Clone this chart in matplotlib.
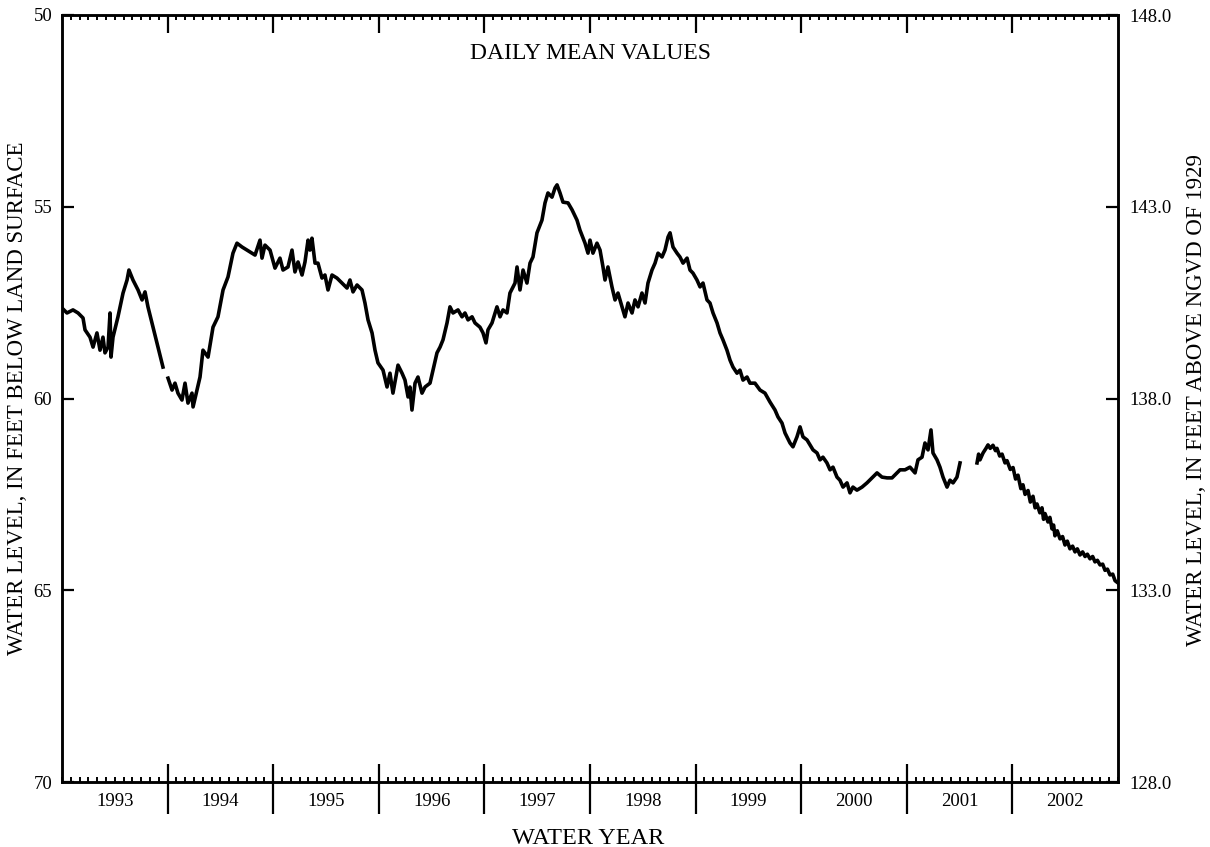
import matplotlib.pyplot as plt
import numpy as np

plt.rcParams['font.family'] = ['Liberation Serif', 'DejaVu Serif']

# decimal year (water year 1993 starts at 1992.75) and depth to water, feet
yr_a = [1992.750, 1992.797, 1992.854, 1992.902, 1992.949, 1992.968, 1993.015, 1993.044,
        1993.081, 1993.110, 1993.138, 1993.157, 1993.186, 1993.205, 1993.214, 1993.233,
        1993.280, 1993.328, 1993.366, 1993.384, 1993.422, 1993.470, 1993.508, 1993.536,
        1993.564, 1993.612, 1993.659, 1993.706]
lvl_a = [57.64, 57.77, 57.69, 57.77, 57.90, 58.21, 58.40, 58.66,
         58.29, 58.74, 58.40, 58.81, 58.66, 57.77, 58.92, 58.40,
         57.87, 57.25, 56.91, 56.65, 56.91, 57.17, 57.43, 57.22,
         57.61, 58.14, 58.66, 59.18]

yr_b = [1993.754, 1993.792, 1993.820, 1993.848, 1993.886, 1993.915, 1993.943, 1993.981,
        1993.991, 1994.028, 1994.057, 1994.085, 1994.133, 1994.180, 1994.227, 1994.275,
        1994.322, 1994.369, 1994.407, 1994.455, 1994.502, 1994.549, 1994.578, 1994.625,
        1994.644, 1994.672, 1994.720, 1994.767, 1994.814, 1994.843, 1994.890, 1994.928,
        1994.956, 1994.985, 1995.023, 1995.051, 1995.080, 1995.098, 1995.117, 1995.146,
        1995.174, 1995.212, 1995.240, 1995.269, 1995.307, 1995.354, 1995.402, 1995.449,
        1995.477, 1995.506, 1995.544, 1995.591, 1995.619, 1995.648, 1995.686, 1995.714,
        1995.742, 1995.790, 1995.828, 1995.856, 1995.884, 1995.932, 1995.970, 1995.998,
        1996.027, 1996.045, 1996.064, 1996.093, 1996.121, 1996.159, 1996.188, 1996.235,
        1996.263, 1996.301, 1996.330, 1996.358, 1996.396, 1996.424, 1996.453, 1996.500,
        1996.538, 1996.566, 1996.595, 1996.633, 1996.661, 1996.708, 1996.737, 1996.765,
        1996.784, 1996.822, 1996.869, 1996.898, 1996.926, 1996.964, 1996.992, 1997.040,
        1997.059, 1997.087, 1997.116, 1997.153, 1997.182, 1997.210, 1997.248, 1997.295,
        1997.324, 1997.352, 1997.390, 1997.419, 1997.438, 1997.466, 1997.494, 1997.542,
        1997.580, 1997.627, 1997.655, 1997.703, 1997.731, 1997.750, 1997.778, 1997.816,
        1997.845, 1997.873, 1997.892, 1997.920, 1997.958, 1997.987, 1998.015, 1998.053,
        1998.081, 1998.110, 1998.148, 1998.176, 1998.205, 1998.242, 1998.271, 1998.299,
        1998.337, 1998.366, 1998.394, 1998.432, 1998.460, 1998.489, 1998.508, 1998.536,
        1998.574, 1998.602, 1998.631, 1998.669, 1998.697, 1998.725, 1998.763, 1998.792,
        1998.820, 1998.858, 1998.886, 1998.915, 1998.953, 1998.981, 1999.009, 1999.047,
        1999.076, 1999.104, 1999.142, 1999.170, 1999.199, 1999.237, 1999.265, 1999.312,
        1999.360, 1999.407, 1999.454, 1999.502, 1999.530, 1999.568, 1999.597, 1999.644,
        1999.672, 1999.710, 1999.739, 1999.767, 1999.805, 1999.833, 1999.862, 1999.900,
        1999.928, 1999.956, 1999.994, 2000.023, 2000.051, 2000.089, 2000.117, 2000.146,
        2000.184, 2000.212, 2000.240, 2000.278, 2000.326, 2000.373, 2000.420, 2000.468,
        2000.515, 2000.563, 2000.610, 2000.657, 2000.686, 2000.733, 2000.780, 2000.828,
        2000.856, 2000.894, 2000.922, 2000.951, 2000.979, 2000.998, 2001.036, 2001.064,
        2001.093, 2001.131, 2001.159, 2001.188, 2001.225, 2001.254]
lvl_b = [59.47, 59.78, 59.60, 59.86, 60.04, 59.60, 60.12, 59.86,
         60.22, 59.78, 59.44, 58.74, 58.92, 58.14, 57.87, 57.17,
         56.83, 56.21, 55.95, 56.05, 56.13, 56.21, 56.26, 55.87,
         56.34, 56.00, 56.13, 56.60, 56.34, 56.65, 56.57, 56.13,
         56.70, 56.44, 56.78, 56.44, 55.87, 56.13, 55.82, 56.47,
         56.47, 56.86, 56.78, 57.17, 56.78, 56.86, 56.99, 57.12,
         56.91, 57.22, 57.04, 57.17, 57.51, 57.95, 58.29, 58.74,
         59.07, 59.26, 59.70, 59.34, 59.86, 59.13, 59.34, 59.52,
         59.96, 59.70, 60.30, 59.60, 59.44, 59.86, 59.70, 59.60,
         59.26, 58.81, 58.66, 58.47, 58.03, 57.61, 57.77, 57.69,
         57.87, 57.77, 57.95, 57.87, 58.03, 58.14, 58.29, 58.55,
         58.21, 58.03, 57.61, 57.87, 57.69, 57.77, 57.25, 56.99,
         56.57, 57.17, 56.65, 56.99, 56.47, 56.31, 55.68, 55.35,
         54.90, 54.64, 54.75, 54.51, 54.43, 54.64, 54.88, 54.90,
         55.08, 55.35, 55.61, 55.95, 56.21, 55.87, 56.21, 55.95,
         56.13, 56.57, 56.91, 56.57, 57.09, 57.43, 57.25, 57.61,
         57.87, 57.51, 57.77, 57.43, 57.61, 57.25, 57.51, 56.99,
         56.65, 56.47, 56.21, 56.31, 56.13, 55.79, 55.68, 56.05,
         56.21, 56.31, 56.47, 56.34, 56.65, 56.73, 56.91, 57.09,
         56.99, 57.43, 57.51, 57.77, 58.03, 58.29, 58.47, 58.74,
         59.00, 59.18, 59.34, 59.26, 59.52, 59.44, 59.60, 59.60,
         59.78, 59.86, 60.09, 60.30, 60.48, 60.64, 60.90, 61.16,
         61.26, 61.00, 60.74, 61.00, 61.08, 61.21, 61.34, 61.42,
         61.60, 61.53, 61.68, 61.86, 61.79, 62.05, 62.13, 62.31,
         62.20, 62.46, 62.31, 62.39, 62.31, 62.20, 62.07, 61.94,
         62.05, 62.07, 62.07, 61.94, 61.86, 61.86, 61.79, 61.94,
         61.60, 61.53, 61.16, 61.34, 60.82, 61.42, 61.60, 61.79,
         62.05, 62.31, 62.13, 62.20, 62.05, 61.68]

yr_c = [2001.415, 2001.430, 2001.443, 2001.472, 2001.500, 2001.519, 2001.540, 2001.566,
        2001.590, 2001.604, 2001.630, 2001.652, 2001.680, 2001.699, 2001.730, 2001.756,
        2001.780, 2001.803, 2001.830, 2001.850, 2001.870, 2001.898, 2001.920, 2001.945,
        2001.965, 2001.983, 2002.010, 2002.030, 2002.045, 2002.059, 2002.087, 2002.105,
        2002.125, 2002.140, 2002.153, 2002.175, 2002.201, 2002.225, 2002.248, 2002.270,
        2002.295, 2002.320, 2002.343, 2002.365, 2002.390, 2002.415, 2002.438, 2002.460,
        2002.485, 2002.510, 2002.532, 2002.555, 2002.580, 2002.605, 2002.627, 2002.650,
        2002.674, 2002.700, 2002.722, 2002.750]
lvl_c = [61.68, 61.45, 61.60, 61.42, 61.30, 61.21, 61.30, 61.22,
         61.36, 61.30, 61.50, 61.45, 61.68, 61.62, 61.85, 61.80,
         62.10, 62.00, 62.35, 62.25, 62.50, 62.40, 62.70, 62.55,
         62.85, 62.75, 62.98, 62.85, 63.15, 63.00, 63.22, 63.10,
         63.40, 63.30, 63.58, 63.45, 63.66, 63.60, 63.82, 63.72,
         63.92, 63.85, 64.00, 63.92, 64.08, 64.00, 64.12, 64.06,
         64.18, 64.12, 64.26, 64.22, 64.34, 64.32, 64.48, 64.45,
         64.60, 64.58, 64.75, 64.81]

water_years = ['1993', '1994', '1995', '1996', '1997', '1998', '1999', '2000', '2001', '2002']
land_surface = 198.0   # feet above NGVD 1929

fig = plt.figure(figsize=(12.1, 8.47), dpi=100)
ax = fig.add_axes([62/1210, 1 - 782/847, 1056/1210, 767/847])

for x, y in [(yr_a, lvl_a), (yr_b, lvl_b), (yr_c, lvl_c)]:
    ax.plot(x, y, color='black', lw=2.6)

x0 = 1992.75
x1 = x0 + len(water_years)
ax.set_xlim(x0, x1)
ax.set_ylim(70, 50)

# x ticks: years major, months minor, all inside
ax.set_xticks(np.arange(x0 + 1, x1, 1.0))
ax.set_xticks(np.arange(x0, x1 + 0.001, 1/12), minor=True)
ax.tick_params(axis='x', which='major', direction='in', length=13, width=1.6,
               top=True, bottom=True, labelbottom=False)
ax.tick_params(axis='x', which='minor', direction='in', length=3.6, width=1.4,
               top=True, bottom=True)

ax.set_yticks([50, 55, 60, 65, 70])
ax.tick_params(axis='y', direction='in', length=8.5, width=1.6, pad=7, labelsize=13.5)
for s in ax.spines.values():
    s.set_linewidth(1.8)

# outer part of the year ticks + year labels
sec = ax.secondary_xaxis('bottom')
sec.set_xticks(np.arange(x0 + 1, x1, 1.0), labels=[''] * (len(water_years) - 1))
sec.set_xticks(np.arange(x0 + 0.5, x1, 1.0), labels=water_years, minor=True)
sec.tick_params(which='major', direction='out', length=23, width=1.6)
sec.tick_params(which='minor', length=0, pad=8, labelsize=13.5)
sec.spines['bottom'].set_visible(False)

# right axis: elevation
ax2 = ax.twinx()
ax2.set_ylim(land_surface - 70, land_surface - 50)
ax2.set_yticks([128, 133, 138, 143, 148])
ax2.set_yticklabels([f'{v:.1f}' for v in [128, 133, 138, 143, 148]])
ax2.tick_params(axis='y', direction='in', length=8.5, width=1.6, pad=8, labelsize=13.5)
for s in ax2.spines.values():
    s.set_linewidth(1.8)

ax.text(0.5, 0.95, 'DAILY MEAN VALUES', transform=ax.transAxes, ha='center',
        va='center', fontsize=17)
fig.text(588/1210, 1 - 838/847, 'WATER YEAR', ha='center', va='center', fontsize=17.5)
fig.text(18/1210, 1 - 398/847, 'WATER LEVEL, IN FEET BELOW LAND SURFACE', rotation=90,
         ha='center', va='center', fontsize=16.5)
fig.text(1197/1210, 1 - 400/847, 'WATER LEVEL, IN FEET ABOVE NGVD OF 1929', rotation=90,
         ha='center', va='center', fontsize=16.5)

fig.savefig('out.png', dpi=100)
